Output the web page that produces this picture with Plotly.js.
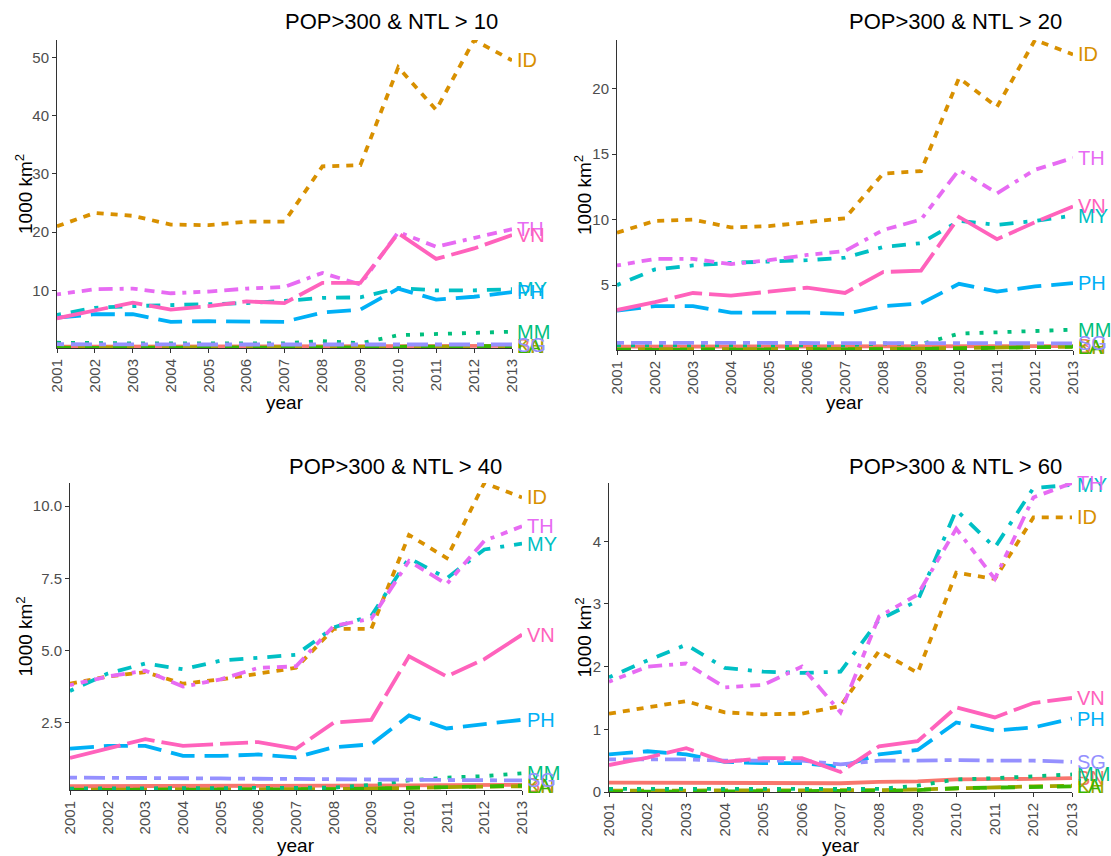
<!DOCTYPE html>
<html>
<head>
<meta charset="utf-8">
<script src="https://cdn.plot.ly/plotly-3.0.1.min.js"></script>
<style>html,body{margin:0;padding:0;background:#fff;}#chart{width:1111px;height:856px;}</style>
</head>
<body>
<div id="chart"></div>
<script>
const years = [2001,2002,2003,2004,2005,2006,2007,2008,2009,2010,2011,2012,2013];
const countries = ["BN","ID","KH","LA","MM","MY","PH","SG","TH","VN"];
const colors = ["#F8766D","#D89000","#A3A500","#39B600","#00BF7D","#00BFC4","#00B0F6","#9590FF","#E76BF3","#FF62BC"];
const dashes = ["solid","7px,7px","14px,7px","14px,14px","4px,10px","4px,10px,14px,10px","24px,10px","7px,7px,21px,7px","4px,7px,7px,7px,10px,7px,14px,7px","52px,7px,28px,7px"];
const panelTitles = ["POP&gt;300 &amp; NTL &gt; 10","POP&gt;300 &amp; NTL &gt; 20","POP&gt;300 &amp; NTL &gt; 40","POP&gt;300 &amp; NTL &gt; 60"];

// NTL > 10
const BN_10 = [0.35,0.35,0.35,0.35,0.35,0.35,0.35,0.4,0.4,0.4,0.4,0.4,0.45];
const ID_10 = [21.0,23.3,22.8,21.3,21.2,21.8,21.8,31.3,31.5,48.3,41.0,53.0,49.5];
const KH_10 = [0.15,0.15,0.15,0.15,0.15,0.15,0.2,0.2,0.2,0.25,0.3,0.35,0.4];
const LA_10 = [0.1,0.1,0.1,0.1,0.1,0.1,0.1,0.15,0.2,0.3,0.35,0.4,0.45];
const MM_10 = [1.0,0.9,0.9,0.9,0.9,0.9,0.9,1.3,0.9,2.3,2.5,2.6,2.9];
const MY_10 = [5.8,7.0,7.3,7.5,7.7,7.8,8.2,8.7,8.8,10.4,10.0,10.0,10.2];
const PH_10 = [5.3,5.9,5.9,4.6,4.7,4.7,4.6,6.2,6.7,10.3,8.4,8.9,9.7];
const SG_10 = [0.75,0.7,0.7,0.7,0.7,0.7,0.7,0.7,0.7,0.7,0.7,0.7,0.7];
const TH_10 = [9.3,10.2,10.3,9.5,9.8,10.3,10.6,13.0,11.0,20.0,17.5,19.0,20.5];
const VN_10 = [5.2,6.6,7.9,6.7,7.3,8.1,7.8,11.3,11.3,19.8,15.4,17.2,19.5];

// NTL > 20
const BN_20 = [0.3,0.3,0.3,0.3,0.3,0.3,0.3,0.3,0.3,0.32,0.33,0.34,0.35];
const ID_20 = [9.0,9.9,10.0,9.4,9.5,9.8,10.1,13.5,13.7,20.8,18.6,23.7,22.6];
const KH_20 = [0.1,0.1,0.1,0.1,0.1,0.1,0.12,0.14,0.15,0.2,0.22,0.25,0.3];
const LA_20 = [0.05,0.05,0.05,0.05,0.05,0.06,0.07,0.1,0.12,0.18,0.22,0.26,0.3];
const MM_20 = [0.4,0.4,0.4,0.4,0.4,0.4,0.4,0.55,0.5,1.3,1.4,1.5,1.6];
const MY_20 = [5.0,6.2,6.5,6.7,6.8,6.9,7.1,7.9,8.2,9.9,9.6,9.9,10.3];
const PH_20 = [3.05,3.4,3.4,2.9,2.9,2.9,2.8,3.4,3.6,5.1,4.5,4.9,5.15];
const SG_20 = [0.6,0.6,0.6,0.6,0.6,0.6,0.6,0.6,0.6,0.58,0.58,0.57,0.56];
const TH_20 = [6.5,7.0,7.0,6.6,6.9,7.3,7.6,9.2,10.0,13.8,12.0,13.8,14.7];
const VN_20 = [3.1,3.7,4.4,4.2,4.5,4.8,4.4,6.0,6.1,10.2,8.5,9.8,11.0];

// NTL > 40
const BN_40 = [0.3,0.3,0.3,0.3,0.3,0.3,0.3,0.31,0.32,0.33,0.34,0.35,0.35];
const ID_40 = [3.85,4.1,4.25,3.85,4.0,4.2,4.4,5.75,5.75,9.0,8.2,10.8,10.3];
const KH_40 = [0.18,0.18,0.18,0.18,0.18,0.18,0.19,0.2,0.22,0.25,0.27,0.29,0.3];
const LA_40 = [0.17,0.17,0.18,0.18,0.18,0.18,0.18,0.2,0.22,0.25,0.27,0.3,0.32];
const MM_40 = [0.22,0.22,0.22,0.22,0.22,0.22,0.22,0.25,0.35,0.5,0.6,0.65,0.75];
const MY_40 = [3.6,4.2,4.55,4.35,4.65,4.75,4.85,5.8,6.2,8.2,7.5,8.5,8.7];
const PH_40 = [1.6,1.7,1.7,1.35,1.35,1.4,1.3,1.65,1.75,2.75,2.3,2.45,2.6];
const SG_40 = [0.6,0.6,0.58,0.58,0.57,0.56,0.55,0.55,0.55,0.55,0.53,0.52,0.5];
const TH_40 = [3.8,4.1,4.3,3.75,4.0,4.4,4.45,5.85,6.1,8.1,7.3,8.8,9.3];
const VN_40 = [1.28,1.6,1.93,1.7,1.75,1.83,1.6,2.5,2.6,4.8,4.1,4.7,5.55];

// NTL > 60
const BN_60 = [0.15,0.15,0.15,0.14,0.14,0.14,0.14,0.16,0.17,0.2,0.2,0.21,0.22];
const ID_60 = [1.25,1.35,1.45,1.27,1.24,1.25,1.37,2.25,1.9,3.5,3.4,4.38,4.38];
const KH_60 = [0.02,0.02,0.02,0.02,0.02,0.02,0.02,0.03,0.04,0.06,0.07,0.09,0.1];
const LA_60 = [0.0,0.01,0.01,0.01,0.01,0.01,0.01,0.02,0.03,0.06,0.07,0.08,0.09];
const MM_60 = [0.05,0.05,0.05,0.04,0.04,0.04,0.04,0.05,0.1,0.2,0.22,0.25,0.28];
const MY_60 = [1.83,2.1,2.35,1.98,1.92,1.9,1.92,2.75,3.05,4.5,3.9,4.85,4.9];
const PH_60 = [0.6,0.65,0.6,0.48,0.46,0.46,0.4,0.6,0.67,1.11,0.98,1.03,1.17];
const SG_60 = [0.52,0.52,0.52,0.5,0.5,0.5,0.44,0.5,0.5,0.51,0.5,0.5,0.48];
const TH_60 = [1.76,2.0,2.05,1.67,1.71,2.0,1.27,2.8,3.15,4.2,3.4,4.7,4.93];
const VN_60 = [0.43,0.55,0.7,0.48,0.54,0.54,0.32,0.73,0.81,1.35,1.19,1.42,1.5];

const panels = [
  [BN_10,ID_10,KH_10,LA_10,MM_10,MY_10,PH_10,SG_10,TH_10,VN_10],
  [BN_20,ID_20,KH_20,LA_20,MM_20,MY_20,PH_20,SG_20,TH_20,VN_20],
  [BN_40,ID_40,KH_40,LA_40,MM_40,MY_40,PH_40,SG_40,TH_40,VN_40],
  [BN_60,ID_60,KH_60,LA_60,MM_60,MY_60,PH_60,SG_60,TH_60,VN_60]
];

// layout geometry (pixels)
const W = 1111, H = 856;
const boxes = [
  {x0:57, x1:512, y0:40, y1:348, dtick:10, fmt:"", titleX:283, titleY:22, yearY:402, ytX:24},
  {x0:617, x1:1073, y0:40, y1:350, dtick:5, fmt:"", titleX:847, titleY:22, yearY:402, ytX:583},
  {x0:70, x1:522, y0:483, y1:790, dtick:2.5, fmt:".1f", titleX:287, titleY:466, yearY:845, ytX:24},
  {x0:609, x1:1072, y0:483, y1:792, dtick:1, fmt:"", titleX:847, titleY:466, yearY:845, ytX:583}
];

const traces = [];
const annotations = [];
const layout = {
  width: W, height: H,
  margin: {l:0, r:0, t:0, b:0},
  paper_bgcolor: "#ffffff",
  plot_bgcolor: "#ffffff",
  showlegend: false,
  font: {family: "Liberation Sans, Arial, sans-serif", color: "#000"},
  annotations: annotations
};

panels.forEach((series, p) => {
  const b = boxes[p];
  const sfx = p === 0 ? "" : String(p + 1);
  const xa = "x" + sfx, ya = "y" + sfx;
  let mn = Infinity, mx = -Infinity;
  series.forEach(s => s.forEach(v => { mn = Math.min(mn, v); mx = Math.max(mx, v); }));
  series.forEach((s, i) => {
    traces.push({
      x: years, y: s, type: "scatter", mode: "lines",
      xaxis: xa, yaxis: ya, name: countries[i],
      line: {color: colors[i], width: 3.8, dash: dashes[i]},
      hoverinfo: "skip"
    });
    annotations.push({
      xref: xa, yref: ya, x: years[years.length - 1], y: s[s.length - 1],
      text: countries[i], showarrow: false, xanchor: "left", yanchor: "middle",
      xshift: 3, font: {size: 20, color: colors[i], family: "Liberation Sans, Arial, sans-serif"}
    });
  });
  const axisCommon = {
    showgrid: false, zeroline: false, showline: true, linecolor: "#333333", linewidth: 1,
    ticks: "outside", ticklen: 4, tickcolor: "#333333", tickwidth: 1,
    tickfont: {size: 15, color: "#4D4D4D", family: "Liberation Sans, Arial, sans-serif"}
  };
  layout["xaxis" + sfx] = Object.assign({}, axisCommon, {
    domain: [b.x0 / W, b.x1 / W], anchor: ya, range: [years[0], years[years.length - 1]],
    tickmode: "array", tickvals: years, ticktext: years.map(String), tickangle: -90
  });
  layout["yaxis" + sfx] = Object.assign({}, axisCommon, {
    domain: [1 - b.y1 / H, 1 - b.y0 / H], anchor: xa, range: [mn, mx],
    tick0: 0, dtick: b.dtick, tickformat: b.fmt
  });
  annotations.push({
    xref: "paper", yref: "paper", x: b.titleX / W, y: 1 - b.titleY / H,
    text: panelTitles[p], showarrow: false, xanchor: "left", yanchor: "middle",
    font: {size: 22, color: "#000"}
  });
  annotations.push({
    xref: "paper", yref: "paper", x: (b.x0 + b.x1) / 2 / W, y: 1 - b.yearY / H,
    text: "year", showarrow: false, xanchor: "center", yanchor: "middle",
    font: {size: 19, color: "#000"}
  });
  annotations.push({
    xref: "paper", yref: "paper", x: b.ytX / W, y: 1 - (b.y0 + b.y1) / 2 / H,
    text: "1000 km<sup>2</sup>", showarrow: false, textangle: -90,
    xanchor: "center", yanchor: "middle",
    font: {size: 19, color: "#000"}
  });
});

Plotly.newPlot("chart", traces, layout, {displayModeBar: false, staticPlot: true});
</script>
</body>
</html>
